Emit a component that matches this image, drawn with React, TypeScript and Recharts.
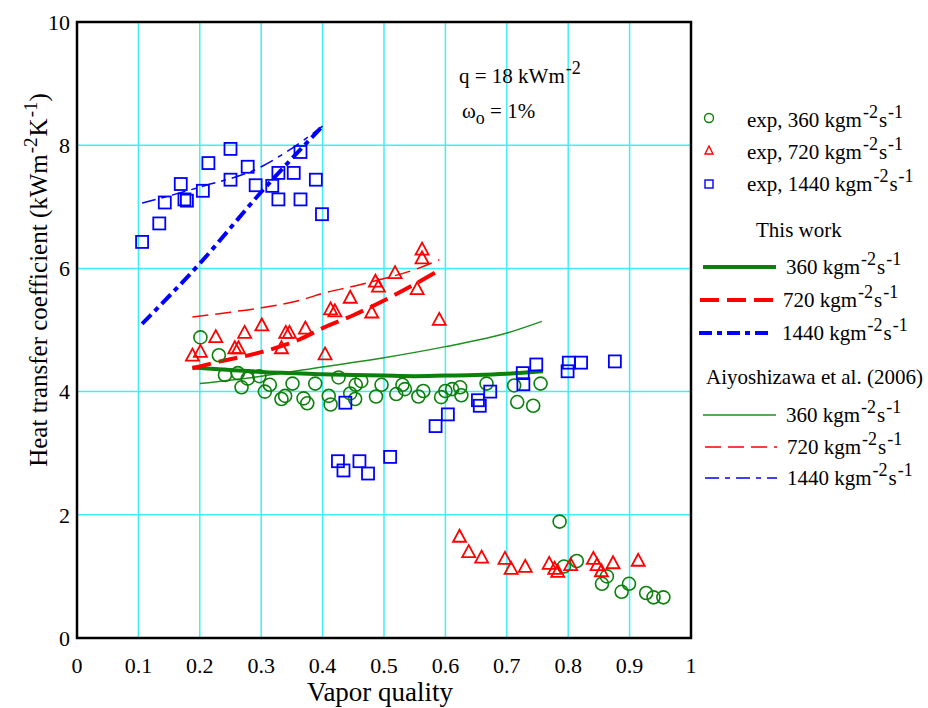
import React from 'react';
import {
  ComposedChart,
  Scatter,
  Line,
  XAxis,
  YAxis,
  CartesianGrid,
  ReferenceArea,
  Legend,
  Label,
} from 'recharts';

type Pt = { x: number; y: number };
const pts = (rows: number[][]): Pt[] => rows.map(([x, y]) => ({ x, y }));

// Measured heat transfer coefficients (kW m-2 K-1) vs vapor quality
const exp360 = pts([
  [0.201, 4.88], [0.231, 4.59], [0.241, 4.27], [0.262, 4.3], [0.268, 4.07], [0.278, 4.21],
  [0.297, 4.25], [0.306, 4.0], [0.314, 4.11], [0.333, 3.88], [0.339, 3.93], [0.351, 4.13],
  [0.369, 3.89], [0.375, 3.81], [0.388, 4.13], [0.41, 3.93], [0.413, 3.79], [0.426, 4.23],
  [0.445, 3.97], [0.453, 3.88], [0.454, 4.11], [0.463, 4.17], [0.487, 3.92], [0.496, 4.11],
  [0.52, 3.96], [0.53, 4.11], [0.534, 4.04], [0.556, 3.92], [0.564, 4.01], [0.593, 3.91],
  [0.6, 4.01], [0.611, 4.04], [0.624, 4.07], [0.626, 3.94], [0.667, 4.13], [0.712, 4.1],
  [0.717, 3.83], [0.743, 3.77], [0.755, 4.13], [0.786, 1.89], [0.793, 1.16], [0.814, 1.25],
  [0.855, 0.88], [0.863, 1.0], [0.887, 0.75], [0.899, 0.88], [0.927, 0.73], [0.939, 0.66],
  [0.955, 0.66],
]);

const exp720 = pts([
  [0.188, 4.6], [0.201, 4.66], [0.226, 4.9], [0.257, 4.72], [0.263, 4.72], [0.273, 4.97],
  [0.301, 5.09], [0.333, 4.72], [0.34, 4.97], [0.346, 4.97], [0.372, 5.04], [0.404, 4.62],
  [0.413, 5.35], [0.42, 5.32], [0.445, 5.54], [0.48, 5.3], [0.486, 5.8], [0.491, 5.72],
  [0.518, 5.94], [0.554, 5.68], [0.562, 6.32], [0.562, 6.18], [0.59, 5.18],
  [0.623, 1.66], [0.638, 1.41], [0.659, 1.32], [0.697, 1.3], [0.707, 1.14], [0.73, 1.17],
  [0.769, 1.22], [0.778, 1.14], [0.783, 1.09], [0.804, 1.2], [0.841, 1.3], [0.847, 1.2],
  [0.854, 1.1], [0.873, 1.23], [0.914, 1.27],
]);

const exp1440 = pts([
  [0.106, 6.43], [0.134, 6.73], [0.143, 7.07], [0.169, 7.37], [0.175, 7.12], [0.179, 7.1],
  [0.205, 7.26], [0.214, 7.71], [0.25, 7.94], [0.25, 7.44], [0.278, 7.65], [0.291, 7.35],
  [0.318, 7.34], [0.328, 7.55], [0.328, 7.12], [0.353, 7.55], [0.364, 7.89], [0.364, 7.12],
  [0.389, 7.44], [0.399, 6.88],
  [0.425, 2.87], [0.434, 2.72], [0.437, 3.82], [0.46, 2.87], [0.474, 2.67], [0.51, 2.94],
  [0.584, 3.44], [0.604, 3.63], [0.653, 3.86], [0.656, 3.77], [0.673, 4.0], [0.726, 4.3],
  [0.727, 4.12], [0.748, 4.44], [0.799, 4.33], [0.801, 4.47], [0.821, 4.47], [0.876, 4.49],
]);

// Model predictions: this work
const model360 = pts([
  [0.188, 4.39], [0.25, 4.35], [0.3, 4.32], [0.35, 4.3], [0.4, 4.28], [0.45, 4.27],
  [0.5, 4.26], [0.55, 4.25], [0.6, 4.26], [0.65, 4.27], [0.7, 4.29], [0.759, 4.33],
]);
const model720 = pts([
  [0.188, 4.38], [0.233, 4.49], [0.3, 4.64], [0.363, 4.85], [0.4, 5.03], [0.45, 5.24],
  [0.5, 5.48], [0.553, 5.76], [0.59, 5.97],
]);
const model1440 = pts([[0.106, 5.1], [0.2, 6.08], [0.3, 7.24], [0.4, 8.31]]);

// Aiyoshizawa et al. (2006) correlation
const aiyo360 = pts([
  [0.2, 4.13], [0.3, 4.25], [0.4, 4.4], [0.5, 4.55], [0.6, 4.73], [0.7, 4.95], [0.757, 5.14],
]);
const aiyo720 = pts([
  [0.188, 5.21], [0.25, 5.29], [0.3, 5.36], [0.366, 5.49], [0.402, 5.6], [0.45, 5.71],
  [0.502, 5.84], [0.55, 5.98], [0.59, 6.14],
]);
const aiyo1440 = pts([[0.106, 7.06], [0.2, 7.32], [0.3, 7.65], [0.35, 7.95], [0.4, 8.31]]);

const xTicks = [0, 0.1, 0.2, 0.3, 0.4, 0.5, 0.6, 0.7, 0.8, 0.9, 1];
const yTicks = [0, 2, 4, 6, 8, 10];

const FONT = 'Liberation Serif, DejaVu Serif, serif';
const GREEN = '#0b800b';
const GREEN_THIN = '#1f8f1f';
const RED = '#ff0000';
const BLUE = '#0000ff';
const GRID = '#40eef8';

const DASH_720 = '19 8';
const DASH_1440 = '13 5 5 5';
const DASH_720_THIN = '16 7';
const DASH_1440_THIN = '14 6 5 6';

const circleShape = (p: any) => (
  <circle cx={p.cx} cy={p.cy} r={6.5} fill="none" stroke={GREEN} strokeWidth={1.6} />
);
const triangleShape = (p: any) => {
  const w = 13;
  const h = 12;
  return (
    <polygon
      points={`${p.cx},${p.cy - h / 2} ${p.cx - w / 2},${p.cy + h / 2} ${p.cx + w / 2},${p.cy + h / 2}`}
      fill="none"
      stroke={RED}
      strokeWidth={1.8}
    />
  );
};
const squareShape = (p: any) => (
  <rect x={p.cx - 6} y={p.cy - 6} width={12} height={12} fill="none" stroke={BLUE} strokeWidth={1.8} />
);

// "<prefix> kgm-2s-1" with raised exponents
const massFlux = (prefix: string, x: number, y: number) => (
  <text x={x} y={y} fontFamily={FONT} fontSize={21} fill="#000">
    {prefix}kgm
    <tspan dx={1} dy={-9} fontSize={18}>-2</tspan>
    <tspan dx={1} dy={9} fontSize={21}>s</tspan>
    <tspan dx={1} dy={-9} fontSize={18}>-1</tspan>
  </text>
);

const LegendBox = () => (
  <svg width={238} height={410} style={{ display: 'block' }}>
    <circle cx={19} cy={28} r={4.5} fill="none" stroke={GREEN} strokeWidth={1.4} />
    {massFlux('exp, 360 ', 57, 37)}
    <polygon points="19,56 15,64 23,64" fill="none" stroke={RED} strokeWidth={1.4} />
    {massFlux('exp, 720 ', 57, 69)}
    <rect x={15} y={90} width={8} height={8} fill="none" stroke={BLUE} strokeWidth={1.4} />
    {massFlux('exp, 1440 ', 57, 101)}

    <text x={66} y={147} fontFamily={FONT} fontSize={21}>This work</text>
    <line x1={13} x2={86} y1={177} y2={177} stroke={GREEN} strokeWidth={4} />
    {massFlux('360 ', 96, 184)}
    <line x1={10} x2={83} y1={210} y2={210} stroke={RED} strokeWidth={4} strokeDasharray={DASH_720} />
    {massFlux('720 ', 93, 217)}
    <line x1={9} x2={83} y1={243} y2={243} stroke={BLUE} strokeWidth={4} strokeDasharray={DASH_1440} />
    {massFlux('1440 ', 92, 250)}

    <text x={16} y={294} fontFamily={FONT} fontSize={21}>Aiyoshizawa et al. (2006)</text>
    <line x1={13} x2={86} y1={325} y2={325} stroke={GREEN_THIN} strokeWidth={1.5} />
    {massFlux('360 ', 96, 332)}
    <line x1={15} x2={87} y1={357} y2={357} stroke={RED} strokeWidth={1.5} strokeDasharray={DASH_720_THIN} />
    {massFlux('720 ', 97, 364)}
    <line x1={15} x2={87} y1={388} y2={388} stroke={BLUE} strokeWidth={1.5} strokeDasharray={DASH_1440_THIN} />
    {massFlux('1440 ', 97, 395)}
  </svg>
);

const yTitle = () => (
  <text
    x={47}
    y={280}
    transform="rotate(-90 47 280)"
    textAnchor="middle"
    fontFamily={FONT}
    fontSize={25}
    fill="#000"
  >
    Heat transfer coefficient (kWm
    <tspan dx={1} dy={-10} fontSize={19}>-2</tspan>
    <tspan dx={1} dy={10} fontSize={25}>K</tspan>
    <tspan dx={1} dy={-10} fontSize={19}>-1</tspan>
    <tspan dy={10} fontSize={25}>)</tspan>
  </text>
);

const xTitle = () => (
  <text x={380} y={701} textAnchor="middle" fontFamily={FONT} fontSize={27} fill="#000">
    Vapor quality
  </text>
);

const tickStyle = { fontFamily: FONT, fontSize: 22, fill: '#000' };

export default function App() {
  return (
    <div style={{ position: 'absolute', left: 0, top: 0, width: 928, height: 708, background: '#fff' }}>
      <ComposedChart
        width={928}
        height={708}
        margin={{ top: 22, right: 237, bottom: 30, left: 27 }}
      >
        <CartesianGrid stroke={GRID} strokeWidth={1.5} />
        <XAxis
          type="number"
          dataKey="x"
          domain={[0, 1]}
          ticks={xTicks}
          interval={0}
          height={40}
          axisLine={false}
          tickLine={false}
          tickSize={0}
          tickMargin={19}
          tick={tickStyle}
        >
          <Label content={xTitle} />
        </XAxis>
        <YAxis
          type="number"
          dataKey="y"
          domain={[0, 10]}
          ticks={yTicks}
          interval={0}
          width={50}
          axisLine={false}
          tickLine={false}
          tickSize={0}
          tickMargin={7}
          tick={tickStyle}
        >
          <Label content={yTitle} />
        </YAxis>

        <Line data={aiyo360} dataKey="y" type="monotone" stroke={GREEN_THIN} strokeWidth={1.5} dot={false} isAnimationActive={false} />
        <Line data={aiyo720} dataKey="y" type="monotone" stroke={RED} strokeWidth={1.5} strokeDasharray={DASH_720_THIN} dot={false} isAnimationActive={false} />
        <Line data={aiyo1440} dataKey="y" type="monotone" stroke={BLUE} strokeWidth={1.5} strokeDasharray={DASH_1440_THIN} dot={false} isAnimationActive={false} />

        <Line data={model360} dataKey="y" type="monotone" stroke={GREEN} strokeWidth={4} dot={false} isAnimationActive={false} />
        <Line data={model720} dataKey="y" type="monotone" stroke={RED} strokeWidth={4} strokeDasharray={DASH_720} dot={false} isAnimationActive={false} />
        <Line data={model1440} dataKey="y" type="monotone" stroke={BLUE} strokeWidth={4} strokeDasharray={DASH_1440} dot={false} isAnimationActive={false} />

        <Scatter data={exp360} dataKey="y" shape={circleShape} isAnimationActive={false} />
        <Scatter data={exp720} dataKey="y" shape={triangleShape} isAnimationActive={false} />
        <Scatter data={exp1440} dataKey="y" shape={squareShape} isAnimationActive={false} />

        <ReferenceArea x1={0} x2={1} y1={0} y2={10} fill="none" stroke="#000" strokeWidth={2.5} ifOverflow="visible" />

        <Legend
          layout="horizontal"
          verticalAlign="middle"
          align="center"
          width={238}
          content={LegendBox}
          wrapperStyle={{ left: 690, top: 90, width: 238 }}
        />
      </ComposedChart>

      {/* operating conditions */}
      <svg
        width={928}
        height={708}
        style={{ position: 'absolute', left: 0, top: 0, pointerEvents: 'none' }}
      >
        <text x={459} y={83} fontFamily={FONT} fontSize={21}>
          q = 18 kWm
          <tspan dx={1} dy={-9} fontSize={18}>-2</tspan>
        </text>
        <text x={462} y={118} fontFamily={FONT} fontSize={21}>
          ω
          <tspan dy={6} fontSize={18}>o</tspan>
          <tspan dy={-6} fontSize={21}> = 1%</tspan>
        </text>
      </svg>
    </div>
  );
}
